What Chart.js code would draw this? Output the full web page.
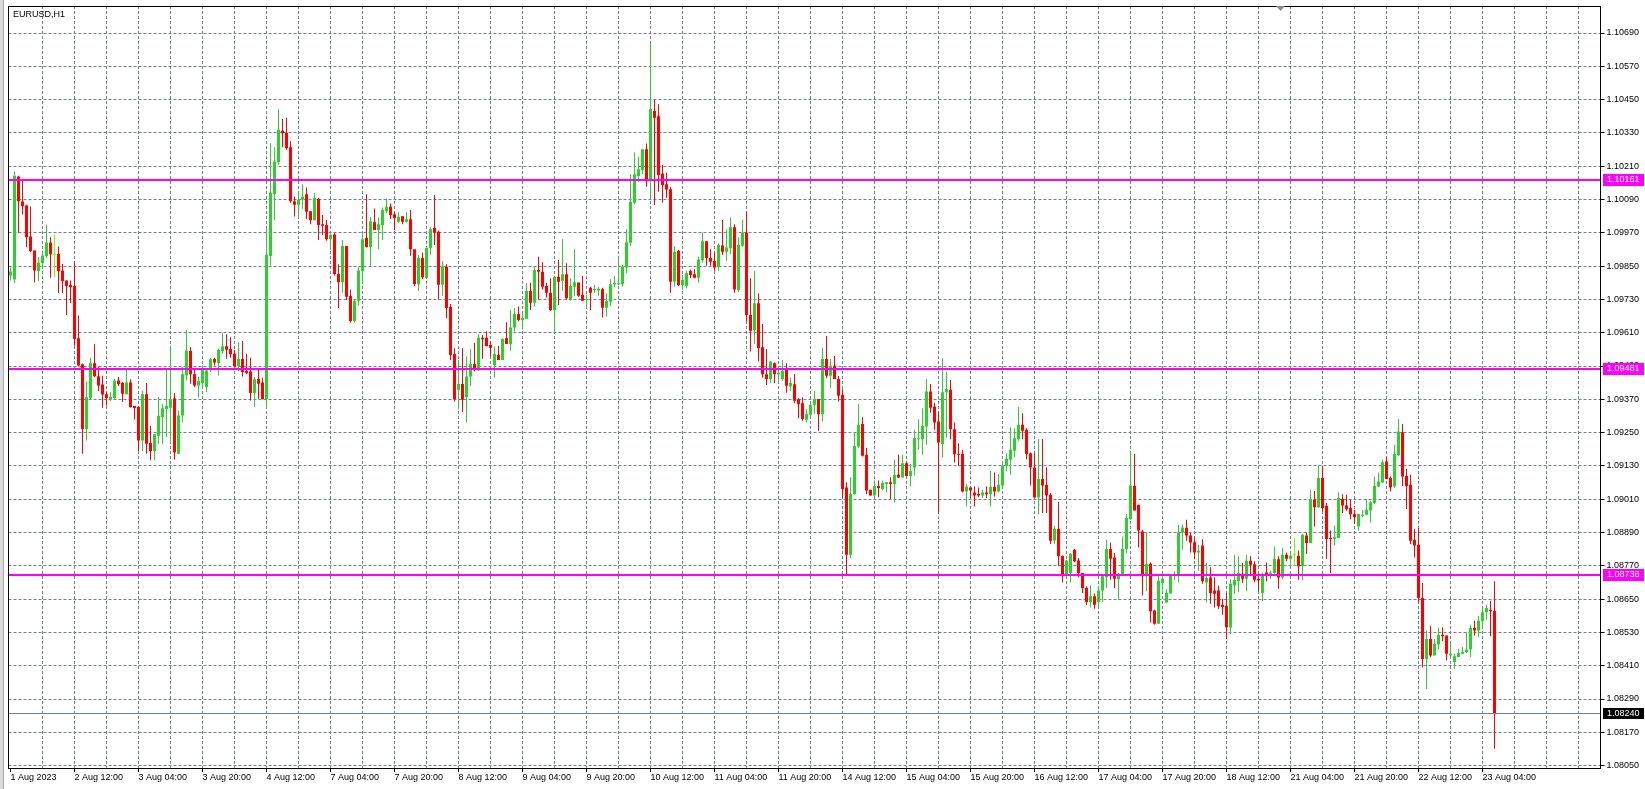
<!DOCTYPE html>
<html>
<head>
<meta charset="utf-8">
<title>EURUSD,H1</title>
<script src="https://cdn.jsdelivr.net/npm/chart.js@4.4.1/dist/chart.umd.min.js"></script>
<style>
  html, body { margin: 0; padding: 0; background: #fff; }
  #wrap { position: relative; width: 1645px; height: 789px; }
</style>
</head>
<body>
<div id="wrap"><canvas id="myChart"></canvas></div>
<script>
const symbol = "EURUSD,H1";

// one label every 16 hourly bars, starting at the first bar
const tickLabels = ["1 Aug 2023", "2 Aug 12:00", "3 Aug 04:00", "3 Aug 20:00", "4 Aug 12:00",
  "7 Aug 04:00", "7 Aug 20:00", "8 Aug 12:00", "9 Aug 04:00", "9 Aug 20:00", "10 Aug 12:00",
  "11 Aug 04:00", "11 Aug 20:00", "14 Aug 12:00", "15 Aug 04:00", "15 Aug 20:00", "16 Aug 12:00",
  "17 Aug 04:00", "17 Aug 20:00", "18 Aug 12:00", "21 Aug 04:00", "21 Aug 20:00", "22 Aug 12:00",
  "23 Aug 04:00"];

const priceTicks = [1.08050, 1.08170, 1.08290, 1.08410, 1.08530, 1.08650, 1.08770, 1.08890,
  1.09010, 1.09130, 1.09250, 1.09370, 1.09490, 1.09610, 1.09730, 1.09850, 1.09970, 1.10090,
  1.10210, 1.10330, 1.10450, 1.10570, 1.10690];

const levels = [1.10161, 1.09481, 1.08738];
const lastPrice = 1.08240;

const opens = [
  1.09816,1.09802,1.10173,1.10083,1.10068,1.09957,1.09906,1.09832,1.09861,1.09886,1.09935,1.09891,
  1.09894,1.09834,1.09798,1.09782,1.09778,1.09590,1.09496,1.09263,1.09375,1.09500,1.09453,1.09423,
  1.09388,1.09369,1.09375,1.09438,1.09430,1.09388,1.09431,1.09346,1.09342,1.09222,1.09388,1.09213,
  1.09184,1.09239,1.09306,1.09335,1.09340,1.09374,1.09174,1.09312,1.09456,1.09544,1.09460,1.09420,
  1.09429,1.09414,1.09477,1.09515,1.09501,1.09543,1.09561,1.09551,1.09534,1.09489,1.09515,1.09472,
  1.09470,1.09393,1.09443,1.09431,1.09371,1.09886,1.10110,1.10224,1.10338,1.10330,1.10278,1.10084,
  1.10071,1.10091,1.10109,1.10048,1.10015,1.10092,1.10001,1.09998,1.09947,1.09964,1.09822,1.09792,
  1.09922,1.09742,1.09652,1.09725,1.09832,1.09951,1.09918,1.10008,1.09980,1.09998,1.10048,1.10064,
  1.10037,1.10010,1.10030,1.10010,1.10019,1.09911,1.09785,1.09879,1.09808,1.09915,1.09987,1.09974,
  1.09783,1.09848,1.09703,1.09533,1.09404,1.09425,1.09377,1.09452,1.09497,1.09476,1.09592,1.09592,
  1.09566,1.09494,1.09530,1.09512,1.09590,1.09569,1.09629,1.09677,1.09656,1.09660,1.09760,1.09718,
  1.09836,1.09830,1.09778,1.09754,1.09692,1.09812,1.09797,1.09821,1.09728,1.09776,1.09791,1.09746,
  1.09728,1.09772,1.09764,1.09762,1.09767,1.09700,1.09722,1.09784,1.09784,1.09785,1.09845,1.09934,
  1.10078,1.10175,1.10196,1.10271,1.10157,1.10409,1.10390,1.10184,1.10145,1.10127,1.09794,1.09905,
  1.09782,1.09778,1.09832,1.09821,1.09808,1.09872,1.09940,1.09879,1.09868,1.09848,1.09924,1.09902,
  1.09914,1.09990,1.09764,1.09923,1.09970,1.09674,1.09620,1.09716,1.09558,1.09460,1.09443,1.09500,
  1.09460,1.09443,1.09476,1.09416,1.09424,1.09370,1.09356,1.09296,1.09314,1.09350,1.09371,1.09316,
  1.09515,1.09455,1.09491,1.09443,1.09386,1.09052,1.08810,1.09029,1.09200,1.09281,1.09170,1.09044,
  1.09023,1.09058,1.09047,1.09065,1.09071,1.09065,1.09098,1.09088,1.09140,1.09094,1.09124,1.09226,
  1.09226,1.09272,1.09398,1.09344,1.09290,1.09209,1.09395,1.09404,1.09262,1.09173,1.09173,1.09038,
  1.09052,1.09034,1.09029,1.09023,1.09034,1.09028,1.09054,1.09038,1.09059,1.09130,1.09152,1.09185,
  1.09226,1.09278,1.09260,1.09176,1.09124,1.09016,1.09083,1.09062,1.09026,1.08861,1.08903,1.08806,
  1.08740,1.08744,1.08828,1.08789,1.08744,1.08690,1.08640,1.08660,1.08640,1.08681,1.08729,1.08831,
  1.08800,1.08722,1.08738,1.08831,1.08939,1.09058,1.08990,1.08894,1.08732,1.08777,1.08609,1.08561,
  1.08708,1.08638,1.08670,1.08732,1.08738,1.08891,1.08907,1.08879,1.08855,1.08818,1.08843,1.08710,
  1.08728,1.08681,1.08681,1.08630,1.08626,1.08548,1.08699,1.08714,1.08741,1.08723,1.08788,1.08776,
  1.08723,1.08672,1.08746,1.08741,1.08744,1.08794,1.08728,1.08810,1.08795,1.08810,1.08806,1.08768,
  1.08879,1.08852,1.09008,1.08981,1.09086,1.08986,1.08870,1.08867,1.08870,1.09011,1.08987,1.08978,
  1.08957,1.08912,1.08950,1.08954,1.08969,1.08996,1.09056,1.09070,1.09146,1.09086,1.09056,1.09168,
  1.09251,1.09094,1.09062,1.08864,1.08846,1.08654,1.08434,1.08506,1.08447,1.08486,1.08522,1.08519,
  1.08447,1.08423,1.08441,1.08453,1.08459,1.08468,1.08546,1.08537,1.08570,1.08603,1.08612,1.08608
];
const highs = [
  1.09846,1.10191,1.10176,1.10161,1.10071,1.10065,1.09906,1.09882,1.09900,1.10000,1.09954,1.09964,
  1.09921,1.09858,1.09798,1.09798,1.09862,1.09672,1.09498,1.09435,1.09520,1.09568,1.09486,1.09455,
  1.09396,1.09396,1.09443,1.09450,1.09432,1.09484,1.09441,1.09346,1.09346,1.09402,1.09429,1.09274,
  1.09244,1.09378,1.09354,1.09484,1.09556,1.09393,1.09330,1.09486,1.09621,1.09558,1.09484,1.09450,
  1.09492,1.09484,1.09519,1.09520,1.09552,1.09610,1.09604,1.09594,1.09548,1.09576,1.09580,1.09534,
  1.09520,1.09450,1.09480,1.09448,1.09984,1.10293,1.10278,1.10416,1.10380,1.10385,1.10300,1.10101,
  1.10118,1.10145,1.10133,1.10048,1.10114,1.10096,1.10034,1.10016,1.09965,1.09970,1.09857,1.09944,
  1.09922,1.09766,1.09728,1.09848,1.09965,1.10109,1.10027,1.10058,1.10025,1.10061,1.10094,1.10076,
  1.10046,1.10044,1.10030,1.10044,1.10052,1.09911,1.09890,1.09899,1.09920,1.09989,1.10106,1.09977,
  1.09868,1.09857,1.09713,1.09554,1.09512,1.09554,1.09524,1.09550,1.09574,1.09605,1.09602,1.09615,
  1.09578,1.09560,1.09562,1.09590,1.09648,1.09694,1.09698,1.09704,1.09683,1.09788,1.09790,1.09848,
  1.09884,1.09864,1.09790,1.09806,1.09812,1.09872,1.09947,1.09860,1.09806,1.09911,1.09791,1.09814,
  1.09748,1.09776,1.09782,1.09776,1.09772,1.09752,1.09803,1.09814,1.09878,1.09854,1.09983,1.10181,
  1.10260,1.10244,1.10271,1.10292,1.10654,1.10450,1.10433,1.10214,1.10186,1.10136,1.09922,1.09908,
  1.09818,1.09833,1.09838,1.09839,1.09884,1.09971,1.09940,1.09911,1.09899,1.09932,1.10016,1.09982,
  1.10025,1.10001,1.09953,1.10018,1.10046,1.09806,1.09832,1.09752,1.09641,1.09550,1.09508,1.09503,
  1.09488,1.09512,1.09500,1.09448,1.09461,1.09374,1.09377,1.09334,1.09352,1.09400,1.09371,1.09556,
  1.09598,1.09515,1.09526,1.09454,1.09406,1.09071,1.09089,1.09251,1.09353,1.09305,1.09195,1.09044,
  1.09077,1.09077,1.09077,1.09071,1.09089,1.09152,1.09170,1.09170,1.09142,1.09137,1.09260,1.09298,
  1.09338,1.09443,1.09425,1.09358,1.09326,1.09518,1.09470,1.09440,1.09286,1.09212,1.09188,1.09064,
  1.09052,1.09056,1.09052,1.09044,1.09056,1.09112,1.09106,1.09101,1.09146,1.09176,1.09269,1.09266,
  1.09342,1.09320,1.09266,1.09178,1.09176,1.09227,1.09227,1.09125,1.09032,1.08914,1.09000,1.08806,
  1.08792,1.08816,1.08831,1.08798,1.08744,1.08696,1.08700,1.08670,1.08696,1.08738,1.08864,1.08854,
  1.08816,1.08744,1.08876,1.08957,1.09184,1.09173,1.08990,1.08900,1.08891,1.08782,1.08612,1.08734,
  1.08732,1.08686,1.08738,1.08750,1.08918,1.08918,1.08936,1.08888,1.08873,1.08846,1.08866,1.08780,
  1.08765,1.08729,1.08698,1.08650,1.08672,1.08722,1.08810,1.08804,1.08780,1.08810,1.08804,1.08786,
  1.08738,1.08746,1.08782,1.08753,1.08840,1.08804,1.08834,1.08818,1.08816,1.08871,1.08825,1.08885,
  1.08890,1.09044,1.09040,1.09131,1.09131,1.08996,1.08897,1.08915,1.09035,1.09028,1.09026,1.09008,
  1.08972,1.08957,1.08972,1.09010,1.09004,1.09092,1.09106,1.09152,1.09161,1.09092,1.09206,1.09299,
  1.09281,1.09119,1.09098,1.08902,1.08906,1.08708,1.08537,1.08554,1.08506,1.08547,1.08549,1.08519,
  1.08494,1.08453,1.08471,1.08477,1.08531,1.08558,1.08572,1.08590,1.08615,1.08630,1.08644,1.08714
];
const lows = [
  1.09798,1.09789,1.09970,1.10036,1.09918,1.09900,1.09792,1.09796,1.09846,1.09880,1.09808,1.09810,
  1.09753,1.09753,1.09674,1.09717,1.09563,1.09490,1.09174,1.09222,1.09371,1.09450,1.09400,1.09340,
  1.09347,1.09364,1.09372,1.09418,1.09360,1.09388,1.09340,1.09297,1.09184,1.09184,1.09174,1.09150,
  1.09150,1.09210,1.09210,1.09234,1.09213,1.09153,1.09174,1.09288,1.09438,1.09426,1.09414,1.09376,
  1.09414,1.09396,1.09468,1.09492,1.09456,1.09534,1.09516,1.09520,1.09486,1.09472,1.09452,1.09460,
  1.09366,1.09342,1.09372,1.09369,1.09342,1.09852,1.10014,1.10215,1.10278,1.10269,1.10077,1.10029,
  1.10024,1.10056,1.10019,1.10001,1.10015,1.09944,1.09962,1.09941,1.09908,1.09816,1.09699,1.09754,
  1.09728,1.09647,1.09646,1.09707,1.09785,1.09918,1.09851,1.09980,1.09911,1.09944,1.10040,1.10020,
  1.09980,1.10006,1.10001,1.10007,1.09887,1.09778,1.09760,1.09803,1.09806,1.09890,1.09926,1.09730,
  1.09742,1.09663,1.09512,1.09362,1.09334,1.09324,1.09286,1.09418,1.09470,1.09472,1.09516,1.09560,
  1.09524,1.09449,1.09512,1.09512,1.09569,1.09545,1.09614,1.09651,1.09622,1.09660,1.09692,1.09704,
  1.09730,1.09766,1.09737,1.09689,1.09612,1.09710,1.09760,1.09730,1.09725,1.09742,1.09740,1.09725,
  1.09702,1.09692,1.09752,1.09743,1.09665,1.09668,1.09706,1.09773,1.09782,1.09776,1.09824,1.09922,
  1.10073,1.10154,1.10181,1.10136,1.10102,1.10070,1.10118,1.10078,1.10096,1.09754,1.09776,1.09778,
  1.09764,1.09770,1.09806,1.09806,1.09790,1.09863,1.09851,1.09851,1.09833,1.09833,1.09890,1.09869,
  1.09893,1.09754,1.09756,1.09920,1.09650,1.09542,1.09569,1.09506,1.09448,1.09422,1.09428,1.09428,
  1.09437,1.09437,1.09394,1.09400,1.09356,1.09302,1.09293,1.09286,1.09310,1.09317,1.09257,1.09290,
  1.09446,1.09412,1.09443,1.09362,1.09014,1.08740,1.08798,1.09026,1.09194,1.09164,1.09029,1.09023,
  1.09023,1.09017,1.09041,1.09034,1.09010,1.08998,1.09086,1.09088,1.09092,1.09056,1.09095,1.09188,
  1.09170,1.09206,1.09322,1.09260,1.08962,1.09160,1.09232,1.09226,1.09142,1.09130,1.09034,1.08984,
  1.09014,1.08984,1.09017,1.09014,1.09014,1.08984,1.09020,1.09034,1.09058,1.09110,1.09098,1.09161,
  1.09221,1.09226,1.09154,1.09059,1.09016,1.08956,1.08960,1.08960,1.08849,1.08849,1.08768,1.08710,
  1.08722,1.08710,1.08783,1.08729,1.08672,1.08630,1.08620,1.08615,1.08625,1.08640,1.08690,1.08720,
  1.08690,1.08648,1.08732,1.08816,1.08936,1.08969,1.08836,1.08663,1.08678,1.08566,1.08558,1.08561,
  1.08681,1.08638,1.08670,1.08720,1.08711,1.08828,1.08860,1.08818,1.08794,1.08752,1.08705,1.08638,
  1.08633,1.08620,1.08614,1.08594,1.08506,1.08524,1.08669,1.08675,1.08708,1.08678,1.08734,1.08711,
  1.08678,1.08642,1.08714,1.08723,1.08741,1.08687,1.08722,1.08786,1.08774,1.08770,1.08720,1.08717,
  1.08813,1.08852,1.08912,1.08978,1.08966,1.08795,1.08744,1.08843,1.08870,1.08960,1.08968,1.08938,
  1.08921,1.08897,1.08944,1.08954,1.08926,1.08993,1.09053,1.09068,1.09083,1.09038,1.09050,1.09166,
  1.09058,1.08975,1.08849,1.08800,1.08639,1.08404,1.08326,1.08440,1.08447,1.08470,1.08498,1.08429,
  1.08444,1.08398,1.08441,1.08452,1.08456,1.08441,1.08519,1.08513,1.08543,1.08576,1.08516,1.08111
];
const closes = [
  1.09831,1.10176,1.10084,1.10066,1.09954,1.09904,1.09834,1.09862,1.09888,1.09935,1.09893,1.09891,
  1.09832,1.09796,1.09778,1.09774,1.09587,1.09492,1.09263,1.09377,1.09500,1.09453,1.09420,1.09387,
  1.09375,1.09378,1.09438,1.09425,1.09390,1.09431,1.09342,1.09339,1.09222,1.09388,1.09210,1.09184,
  1.09244,1.09311,1.09338,1.09346,1.09370,1.09178,1.09312,1.09460,1.09546,1.09460,1.09420,1.09436,
  1.09480,1.09474,1.09514,1.09503,1.09549,1.09561,1.09549,1.09532,1.09489,1.09515,1.09468,1.09465,
  1.09393,1.09442,1.09426,1.09371,1.09891,1.10115,1.10227,1.10341,1.10329,1.10275,1.10085,1.10071,
  1.10089,1.10100,1.10046,1.10015,1.10095,1.09998,1.09995,1.09947,1.09963,1.09822,1.09792,1.09922,
  1.09740,1.09652,1.09725,1.09834,1.09947,1.09918,1.10012,1.09980,1.10001,1.10052,1.10064,1.10034,
  1.10022,1.10028,1.10010,1.10019,1.09911,1.09785,1.09879,1.09810,1.09915,1.09983,1.09970,1.09783,
  1.09848,1.09699,1.09530,1.09370,1.09425,1.09368,1.09452,1.09497,1.09476,1.09592,1.09586,1.09562,
  1.09556,1.09533,1.09512,1.09587,1.09569,1.09629,1.09677,1.09656,1.09663,1.09760,1.09718,1.09836,
  1.09830,1.09776,1.09754,1.09692,1.09812,1.09794,1.09821,1.09734,1.09778,1.09792,1.09743,1.09725,
  1.09730,1.09754,1.09766,1.09768,1.09700,1.09724,1.09785,1.09790,1.09788,1.09848,1.09936,1.10082,
  1.10181,1.10199,1.10271,1.10157,1.10415,1.10385,1.10178,1.10142,1.10126,1.09794,1.09902,1.09782,
  1.09800,1.09824,1.09818,1.09808,1.09874,1.09940,1.09879,1.09866,1.09845,1.09926,1.09902,1.09917,
  1.09990,1.09766,1.09926,1.09970,1.09674,1.09617,1.09716,1.09554,1.09460,1.09443,1.09506,1.09460,
  1.09466,1.09472,1.09419,1.09430,1.09365,1.09352,1.09299,1.09317,1.09350,1.09371,1.09316,1.09515,
  1.09455,1.09491,1.09443,1.09383,1.09047,1.08810,1.09029,1.09202,1.09278,1.09167,1.09041,1.09023,
  1.09058,1.09050,1.09068,1.09071,1.09065,1.09098,1.09088,1.09140,1.09094,1.09112,1.09230,1.09227,
  1.09274,1.09398,1.09340,1.09286,1.09214,1.09395,1.09407,1.09262,1.09172,1.09170,1.09038,1.09056,
  1.09041,1.09023,1.09023,1.09034,1.09028,1.09054,1.09038,1.09062,1.09131,1.09155,1.09188,1.09230,
  1.09278,1.09257,1.09173,1.09124,1.09016,1.09083,1.09059,1.09023,1.08860,1.08903,1.08804,1.08740,
  1.08789,1.08813,1.08786,1.08744,1.08690,1.08640,1.08660,1.08630,1.08681,1.08732,1.08831,1.08795,
  1.08723,1.08738,1.08831,1.08942,1.09059,1.08969,1.08897,1.08732,1.08777,1.08606,1.08561,1.08716,
  1.08723,1.08672,1.08734,1.08741,1.08891,1.08908,1.08879,1.08854,1.08818,1.08824,1.08714,1.08726,
  1.08672,1.08669,1.08624,1.08622,1.08549,1.08705,1.08720,1.08744,1.08723,1.08788,1.08774,1.08720,
  1.08717,1.08741,1.08738,1.08746,1.08795,1.08728,1.08810,1.08795,1.08806,1.08810,1.08768,1.08882,
  1.08852,1.09011,1.08981,1.09086,1.08978,1.08867,1.08867,1.08873,1.09014,1.08987,1.08975,1.08956,
  1.08945,1.08957,1.08954,1.08972,1.08999,1.09058,1.09074,1.09143,1.09083,1.09052,1.09173,1.09254,
  1.09092,1.09058,1.08860,1.08843,1.08654,1.08434,1.08506,1.08447,1.08488,1.08522,1.08516,1.08453,
  1.08453,1.08444,1.08456,1.08459,1.08468,1.08546,1.08537,1.08572,1.08603,1.08618,1.08606,1.08240
];

// visible price window and empty space right of the last bar (chart shift)
const priceMin = 1.080414;
const priceMax = 1.107873;
const emptyBars = 26;
const labelEvery = 16;
const gridEvery = 8;

const UP = "rgb(50,205,50)";
const DOWN = "rgb(255,0,0)";
const DOJI = "rgb(124,252,0)";
const GRID = "rgb(112,128,144)";
const LEVEL = "rgb(255,0,255)";
const FONT_FAMILY = "'Liberation Sans', Arial, sans-serif";
const FONT_SIZE = 9;

const nBars = opens.length + emptyBars;
const categories = Array.from({ length: nBars }, (_, i) => i);
const colors = opens.map((o, i) => closes[i] > o ? UP : closes[i] < o ? DOWN : DOJI);

const chartFrame = {
  id: "chartFrame",
  beforeDraw(chart) {
    const { ctx, width, height } = chart;
    ctx.save();
    ctx.fillStyle = "#fff";
    ctx.fillRect(0, 0, width, height);
    ctx.fillStyle = "#dcdcdc";
    ctx.fillRect(0, 0, 3, height);
    ctx.fillStyle = "#a8a8a8";
    ctx.fillRect(3, 0, 1, height);
    ctx.restore();
  },
  afterDatasetsDraw(chart) {
    const { ctx, chartArea: a, scales: { y } } = chart;
    ctx.save();
    ctx.fillStyle = LEVEL;
    levels.forEach((v) => {
      const py = Math.round(y.getPixelForValue(v));
      ctx.fillRect(a.left, py - 1, a.right - a.left, 2);
    });
    ctx.fillStyle = GRID;
    const lp = Math.round(y.getPixelForValue(lastPrice));
    ctx.fillRect(a.left, lp, a.right - a.left, 1);
    ctx.restore();
  },
  afterDraw(chart) {
    const { ctx, chartArea: a, scales: { y } } = chart;
    ctx.save();
    ctx.strokeStyle = "#000";
    ctx.lineWidth = 1;
    ctx.strokeRect(Math.floor(a.left) + 0.5, Math.floor(a.top) + 0.5,
      Math.round(a.right - a.left), Math.round(a.bottom - a.top));

    ctx.font = FONT_SIZE + "px " + FONT_FAMILY;
    ctx.textBaseline = "middle";
    ctx.textAlign = "left";
    const bx = Math.round(a.right) + 2;
    levels.forEach((v) => {
      const py = Math.round(y.getPixelForValue(v));
      ctx.fillStyle = LEVEL;
      ctx.fillRect(bx, py - 6, 41, 12);
      ctx.fillStyle = "#fff";
      ctx.fillText(v.toFixed(5), bx + 4, py);
    });
    const lp = Math.round(y.getPixelForValue(lastPrice));
    ctx.fillStyle = "#000";
    ctx.fillRect(bx, lp - 5, 41, 11);
    ctx.fillStyle = "#fff";
    ctx.fillText(lastPrice.toFixed(5), bx + 4, lp + 0.5);

    ctx.fillStyle = "#000";
    ctx.fillText(symbol, 13, 15);

    // chart shift marker
    ctx.fillStyle = "#8c8c8c";
    ctx.beginPath();
    ctx.moveTo(1276, 6);
    ctx.lineTo(1285, 6);
    ctx.lineTo(1280.5, 11);
    ctx.closePath();
    ctx.fill();
    ctx.restore();
  }
};

const chartCtx = document.getElementById("myChart").getContext("2d");
window.chart = new Chart(chartCtx, {
  type: "bar",
  data: {
    labels: categories,
    datasets: [
      {
        label: "Body",
        data: opens.map((o, i) => [o, closes[i]]),
        backgroundColor: colors,
        barThickness: 3,
        minBarLength: 1,
        inflateAmount: 0,
        borderWidth: 0,
        grouped: false,
        order: 0,
      },
      {
        label: "Wick",
        data: lows.map((l, i) => [l, highs[i]]),
        backgroundColor: colors,
        barThickness: 1,
        inflateAmount: 0,
        borderWidth: 0,
        grouped: false,
        order: 1,
      },
    ],
  },
  options: {
    responsive: true,
    maintainAspectRatio: false,
    animation: false,
    events: [],
    layout: { padding: { left: 8.5, top: 6, right: 0, bottom: 0 } },
    plugins: {
      legend: { display: false },
      tooltip: { enabled: false },
    },
    scales: {
      x: {
        type: "category",
        offset: true,
        grid: {
          offset: false,
          color: (c) => (c.index > 0 && c.index % gridEvery === 0 ? GRID : "transparent"),
          tickLength: 4,
          tickColor: (c) => (c.index % labelEvery === 0 && c.index < opens.length ? "#000" : "transparent"),
          tickBorderDash: [],
        },
        border: { display: false, dash: [3, 2] },
        ticks: {
          autoSkip: false,
          maxRotation: 0,
          minRotation: 0,
          align: "start",
          padding: 0,
          color: "#000",
          font: { family: FONT_FAMILY, size: FONT_SIZE },
          callback: (v, i) => (i % labelEvery === 0 ? tickLabels[i / labelEvery] || "" : ""),
        },
        afterFit: (s) => {
          s.height = 21;
          s.paddingLeft = 0;
          s.paddingRight = 0;
        },
      },
      y: {
        position: "right",
        min: priceMin,
        max: priceMax,
        afterBuildTicks: (s) => {
          s.ticks = priceTicks.map((v) => ({ value: v }));
        },
        grid: {
          color: GRID,
          tickLength: 4,
          tickColor: "#000",
          tickBorderDash: [],
        },
        border: { display: false, dash: [3, 2] },
        ticks: {
          padding: 2,
          color: "#000",
          font: { family: FONT_FAMILY, size: FONT_SIZE },
          callback: (v) => Number(v).toFixed(5),
        },
        afterFit: (s) => {
          s.width = 44.5;
          s.paddingTop = 0;
          s.paddingBottom = 0;
        },
      },
    },
  },
  plugins: [chartFrame],
});
</script>
</body>
</html>
